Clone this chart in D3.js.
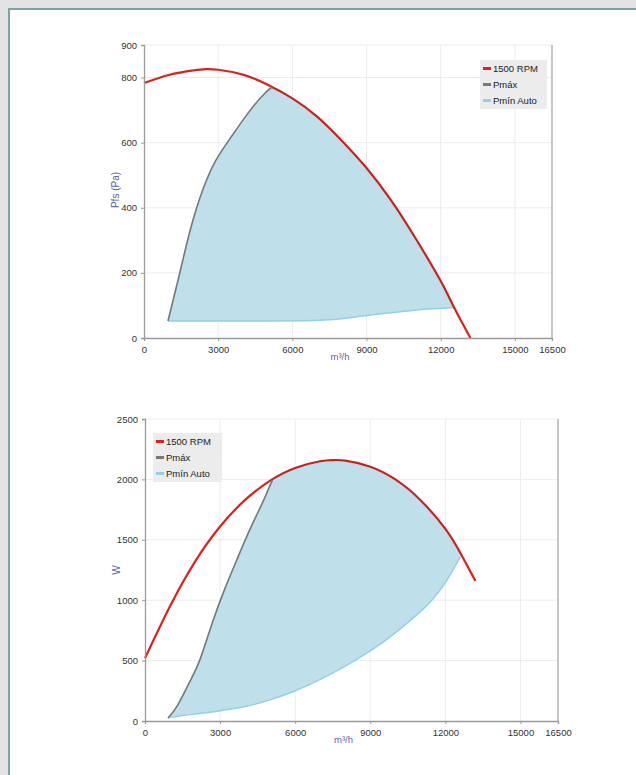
<!DOCTYPE html>
<html>
<head>
<meta charset="utf-8">
<script src="https://cdn.jsdelivr.net/npm/d3@7"></script>
<style>
  body { margin: 0; background: #e3e3e3; font-family: "Liberation Sans", Arial, sans-serif; }
  #vis { position: absolute; left: 0; top: 0; }
</style>
</head>
<body>
<div id="vis"></div>
<script>
// datos (caudal m3/h, valor)
const FLOW_TICKS = [0, 3000, 6000, 9000, 12000, 15000, 16500];
const SERIES_NAMES = ["1500 RPM", "Pmáx", "Pmín Auto"];

// grafico 1 - presion
const pRpm = [[0,783],[1000,808],[2000,822],[2500,826],[3000,824],[4000,809],[5000,778],[6000,736],[7000,680],[8000,606],[9000,522],[10000,422],[11000,304],[12000,175],[12500,100],[13200,0]];
const pMax = [[970,52],[1400,185],[1900,340],[2400,460],[2900,545],[3500,615],[4200,690],[4800,745],[5200,772]];
const pMin = [[970,52],[3000,52],[5000,52],[6500,53],[7500,56],[8500,64],[9500,74],[10500,82],[11500,89],[12500,94]];
const pTicks = [0, 200, 400, 600, 800, 900];

// grafico 2 - potencia
const wRpm = [[0,520],[1000,950],[2000,1320],[3000,1610],[4000,1830],[5000,1990],[6000,2095],[7000,2150],[7500,2160],[8000,2155],[9000,2105],[10000,2000],[11000,1830],[12000,1590],[12600,1390],[13200,1160]];
const wMax = [[920,25],[1300,130],[1800,330],[2200,510],[2700,820],[3200,1100],[3700,1350],[4200,1590],[4700,1810],[5100,2000]];
const wMin = [[920,25],[1500,45],[2200,62],[3000,85],[4000,120],[5000,175],[6000,250],[7000,345],[8000,455],[9000,580],[10000,730],[11000,905],[11500,1010],[12000,1145],[12600,1360]];
const wTicks = [0, 500, 1000, 1500, 2000, 2500];

const W = 636, H = 775;
const COLORS = { rpm: "#e0201e", max: "#777777", min: "#8fd0ea", fill: "#bfe0ea" };

const svg = d3.select("#vis").append("svg").attr("width", W).attr("height", H);
const defs = svg.append("defs");

// marco blanco con borde
svg.append("rect").attr("x", 9).attr("y", 9).attr("width", W).attr("height", H)
  .attr("fill", "#fff").attr("stroke", "#78a6a2").attr("stroke-width", 2);

function drawChart(cfg) {
  const x = d3.scaleLinear().domain([0, 16500]).range([cfg.left, cfg.right]);
  const y = d3.scaleLinear().domain([0, cfg.ymax]).range([cfg.bottom, cfg.top]);
  const g = svg.append("g");

  // grid
  g.append("g").selectAll("line").data(FLOW_TICKS.slice(1, -1)).join("line")
    .attr("x1", d => x(d)).attr("x2", d => x(d)).attr("y1", cfg.top).attr("y2", cfg.bottom)
    .attr("stroke", "#ececec");
  g.append("g").selectAll("line").data(cfg.ticks.slice(1)).join("line")
    .attr("x1", cfg.left).attr("x2", cfg.right).attr("y1", d => y(d)).attr("y2", d => y(d))
    .attr("stroke", "#ececec");

  const curve = d3.curveNatural;
  const line = d3.line().x(d => x(d[0])).y(d => y(d[1])).curve(curve);

  // borde superior de la zona: pmax y luego la curva rpm
  const endX = cfg.min[cfg.min.length - 1][0];
  const joinX = cfg.max[cfg.max.length - 1][0];
  const topEdge = cfg.max.concat(cfg.rpm.filter(d => d[0] > joinX + 200));

  // clip: debajo del borde superior
  const clipId = "clip-" + cfg.id;
  defs.append("clipPath").attr("id", clipId).append("path")
    .attr("d", d3.area().x(d => x(d[0])).y0(cfg.bottom).y1(d => y(d[1])).curve(curve)(topEdge));
  // zona sobre pmin, recortada
  g.append("path")
    .attr("clip-path", `url(#${clipId})`)
    .attr("d", d3.area().x(d => x(d[0])).y0(cfg.top).y1(d => y(d[1])).curve(curve)(cfg.min))
    .attr("fill", COLORS.fill);

  g.append("path").attr("d", line(cfg.min)).attr("fill", "none")
    .attr("stroke", COLORS.min).attr("stroke-width", 1.5);
  g.append("path").attr("d", line(cfg.rpm)).attr("fill", "none")
    .attr("stroke", COLORS.rpm).attr("stroke-width", 2.2);
  g.append("path").attr("d", line(cfg.max)).attr("fill", "none")
    .attr("stroke", COLORS.max).attr("stroke-width", 1.6);

  // pmax sigue por la curva rpm hasta pmin (misma curva, recortada en x)
  const tailId = "tail-" + cfg.id;
  defs.append("clipPath").attr("id", tailId).append("rect")
    .attr("x", x(joinX) - 1).attr("y", cfg.top - 5)
    .attr("width", x(endX) - x(joinX) + 3).attr("height", cfg.bottom - cfg.top + 10);
  g.append("path").attr("d", line(cfg.rpm)).attr("fill", "none")
    .attr("clip-path", `url(#${tailId})`)
    .attr("stroke", "#8a2a22").attr("stroke-width", 0.9).attr("opacity", 0.55);

  // ejes
  const xAxis = d3.axisBottom(x).tickValues(FLOW_TICKS).tickSize(3).tickFormat(d => d);
  const gx = g.append("g").attr("transform", `translate(0,${cfg.bottom})`).call(xAxis);
  const yAxis = d3.axisLeft(y).tickValues(cfg.ticks).tickSize(3).tickFormat(d => d);
  const gy = g.append("g").attr("transform", `translate(${cfg.left},0)`).call(yAxis);
  [gx, gy].forEach(a => {
    a.select(".domain").attr("stroke", "#9a9a9a").attr("stroke-width", 1.3);
    a.selectAll(".tick line").attr("stroke", "#9a9a9a");
    a.selectAll("text").attr("fill", "#333").attr("font-size", 9.5)
      .attr("font-family", "Liberation Sans, Arial, sans-serif");
  });
  gy.selectAll("text").attr("x", -7);
  gx.selectAll("text").attr("y", 8);
  // borde derecho
  g.append("line").attr("x1", cfg.right).attr("x2", cfg.right).attr("y1", cfg.top).attr("y2", cfg.bottom)
    .attr("stroke", "#a8a8a8").attr("stroke-width", 1.3);

  // titulos de eje
  g.append("text").attr("x", (cfg.left + cfg.right) / 2 - 8).attr("y", cfg.bottom + 22)
    .attr("text-anchor", "middle").attr("font-size", 9.5).attr("fill", "#5a5fa8")
    .text("m³/h");
  g.append("text")
    .attr("transform", `translate(${cfg.left - 25},${cfg.ytitleY}) rotate(-90)`)
    .attr("text-anchor", "middle").attr("font-size", 10).attr("fill", "#5a5fa8")
    .text(cfg.ytitle);

  // leyenda
  const lg = g.append("g").attr("transform", `translate(${cfg.legX},${cfg.legY})`);
  lg.append("rect").attr("width", cfg.legW).attr("height", 49).attr("fill", "#ececec");
  const sw = [COLORS.rpm, COLORS.max, COLORS.min];
  SERIES_NAMES.forEach((n, i) => {
    lg.append("rect").attr("x", 3).attr("y", 7 + i * 16).attr("width", 8).attr("height", 3).attr("fill", sw[i]);
    lg.append("text").attr("x", 13).attr("y", 12 + i * 16).attr("font-size", 9.5).attr("fill", "#222").text(n);
  });
}

drawChart({
  id: "p", rpm: pRpm, max: pMax, min: pMin, ticks: pTicks, ymax: 900,
  left: 144, right: 552, top: 45, bottom: 338,
  ytitle: "Pfs (Pa)", ytitleY: 190, legX: 480, legY: 60, legW: 67
});

drawChart({
  id: "w", rpm: wRpm, max: wMax, min: wMin, ticks: wTicks, ymax: 2500,
  left: 145, right: 558, top: 419, bottom: 721,
  ytitle: "W", ytitleY: 570, legX: 153, legY: 433, legW: 69
});
</script>
</body>
</html>
